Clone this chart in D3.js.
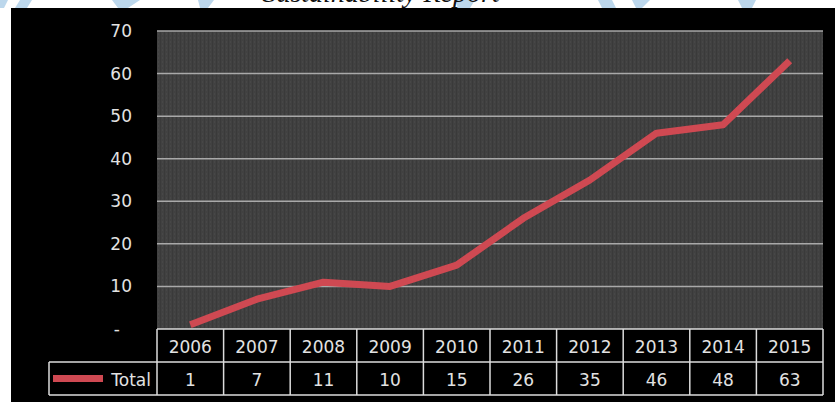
<!DOCTYPE html>
<html>
<head>
<meta charset="utf-8">
<script src="https://cdn.jsdelivr.net/npm/d3@7"></script>
<style>
  html, body { margin: 0; padding: 0; background: #fff; }
  svg { display: block; }
</style>
</head>
<body>
<svg id="chart" width="835" height="402"></svg>
<script>
// Sustainability report -- total per year

var years = ["2006", "2007", "2008", "2009", "2010", "2011", "2012", "2013", "2014", "2015"];
var totals = [1, 7, 11, 10, 15, 26, 35, 46, 48, 63];
var yTicks = [0, 10, 20, 30, 40, 50, 60, 70];
var seriesName = "Total";

var width = 835, height = 402;
var plotLeft = 157, plotRight = 823, plotTop = 31, plotBottom = 329;
var rowH = 33; // table row height
var labelLeft = 49; // left edge of the legend cell
var red = "#cf4952";
var ink = "#e2e2e2";
var font = "'DejaVu Sans', Verdana, sans-serif";

var svg = d3.select("#chart");
var defs = svg.append("defs");

// hatched grey fill of the plot area
var pat = defs.append("pattern")
  .attr("id", "hatch")
  .attr("width", 4).attr("height", 4)
  .attr("patternUnits", "userSpaceOnUse");
pat.append("rect").attr("width", 4).attr("height", 4).attr("fill", "#414141");
pat.append("rect").attr("x", 0).attr("y", 0).attr("width", 1).attr("height", 4).attr("fill", "#3a3a3a");
pat.append("rect").attr("x", 2).attr("y", 1).attr("width", 1).attr("height", 2).attr("fill", "#474747");

///////////////////////////////////////////////////////////////////////////////
// Page header strip (cut off title + watermark)

var marks = [[20, 0, 32, 0, 27, 8, 15, 8], [112, 0, 140, 0, 128, 8, 118, 8],
             [198, 0, 214, 0, 208, 8, 200, 8], [455, 0, 475, 0, 470, 8, 458, 8],
             [598, 0, 612, 0, 616, 8, 602, 8], [632, 0, 650, 0, 642, 8, 636, 8],
             [738, 0, 756, 0, 752, 8, 742, 8], [0, 0, 8, 0, 4, 8, 0, 8]];
svg.selectAll("polygon.wm").data(marks).enter().append("polygon")
  .attr("class", "wm")
  .attr("points", function (p) {
    return p[0] + "," + p[1] + " " + p[2] + "," + p[3] + " " + p[4] + "," + p[5] + " " + p[6] + "," + p[7];
  })
  .attr("fill", "#bcd7ec");

svg.append("text")
  .attr("x", 381).attr("y", 2)
  .attr("text-anchor", "middle")
  .style("font-family", "'Liberation Serif', 'Times New Roman', serif")
  .style("font-style", "italic")
  .style("font-size", "28px")
  .attr("fill", "#111")
  .text("Sustainability Report");

// black chart background
svg.append("rect")
  .attr("x", 11).attr("y", 8)
  .attr("width", width - 11).attr("height", height - 8)
  .attr("fill", "#000");

///////////////////////////////////////////////////////////////////////////////
// Scales

var x = d3.scaleBand().domain(years).range([plotLeft, plotRight]);
var y = d3.scaleLinear().domain([0, 70]).range([plotBottom, plotTop]);

svg.append("rect")
  .attr("x", plotLeft).attr("y", plotTop)
  .attr("width", plotRight - plotLeft).attr("height", plotBottom - plotTop)
  .attr("fill", "url(#hatch)");

// gridlines
svg.append("g").selectAll("line")
  .data(yTicks.filter(function (d) { return d > 0; }))
  .enter().append("line")
  .attr("x1", plotLeft).attr("x2", plotRight)
  .attr("y1", function (d) { return y(d); })
  .attr("y2", function (d) { return y(d); })
  .attr("stroke", "#a9a9a9")
  .attr("stroke-width", 1.5);

// y axis labels (accounting style: zero shown as a dash)
var yAxis = svg.append("g")
  .attr("transform", "translate(" + plotLeft + ",0)")
  .call(d3.axisLeft(y).tickValues(yTicks).tickSize(0).tickPadding(25)
    .tickFormat(function (d) { return d === 0 ? "-" : d; }));
yAxis.select(".domain").remove();
yAxis.selectAll("text")
  .attr("fill", ink)
  .style("font-family", font)
  .style("font-size", "17px")
  .attr("dx", function (d) { return d === 0 ? -12 : 0; });

///////////////////////////////////////////////////////////////////////////////
// The series line

var line = d3.line()
  .x(function (d, i) { return x(years[i]) + x.bandwidth() / 2; })
  .y(function (d) { return y(d); });

svg.append("path")
  .datum(totals)
  .attr("d", line)
  .attr("fill", "none")
  .attr("stroke", red)
  .attr("stroke-width", 7)
  .attr("stroke-linejoin", "round");

///////////////////////////////////////////////////////////////////////////////
// Data table under the plot

var grid = svg.append("g")
  .attr("stroke", "#dcdcdc")
  .attr("stroke-width", 1.5)
  .attr("fill", "none");

grid.append("line").attr("x1", plotLeft).attr("x2", plotRight)
  .attr("y1", plotBottom).attr("y2", plotBottom);
grid.append("line").attr("x1", labelLeft).attr("x2", plotRight)
  .attr("y1", plotBottom + rowH).attr("y2", plotBottom + rowH);
grid.append("line").attr("x1", labelLeft).attr("x2", plotRight)
  .attr("y1", plotBottom + 2 * rowH).attr("y2", plotBottom + 2 * rowH);
grid.append("line").attr("x1", labelLeft).attr("x2", labelLeft)
  .attr("y1", plotBottom + rowH).attr("y2", plotBottom + 2 * rowH);

var edges = years.map(function (d) { return x(d); }).concat([plotRight]);
grid.selectAll("line.col").data(edges).enter().append("line")
  .attr("class", "col")
  .attr("x1", function (d) { return d; }).attr("x2", function (d) { return d; })
  .attr("y1", plotBottom).attr("y2", plotBottom + 2 * rowH);

var cellText = function (sel) {
  sel.attr("text-anchor", "middle")
    .attr("dominant-baseline", "central")
    .attr("fill", ink)
    .style("font-family", font)
    .style("font-size", "17px");
};

svg.append("g").selectAll("text").data(years).enter().append("text")
  .attr("x", function (d) { return x(d) + x.bandwidth() / 2; })
  .attr("y", plotBottom + rowH / 2 + 1)
  .text(function (d) { return d; })
  .call(cellText);

svg.append("g").selectAll("text").data(totals).enter().append("text")
  .attr("x", function (d, i) { return x(years[i]) + x.bandwidth() / 2; })
  .attr("y", plotBottom + rowH * 1.5 + 1)
  .text(function (d) { return d; })
  .call(cellText);

// legend key + series name
svg.append("line")
  .attr("x1", 53).attr("x2", 103)
  .attr("y1", plotBottom + rowH * 1.5).attr("y2", plotBottom + rowH * 1.5)
  .attr("stroke", red).attr("stroke-width", 7);

svg.append("text")
  .attr("x", 151).attr("y", plotBottom + rowH * 1.5 + 1)
  .attr("text-anchor", "end")
  .attr("dominant-baseline", "central")
  .attr("fill", ink)
  .style("font-family", font)
  .style("font-size", "17px")
  .text(seriesName);
</script>
</body>
</html>
